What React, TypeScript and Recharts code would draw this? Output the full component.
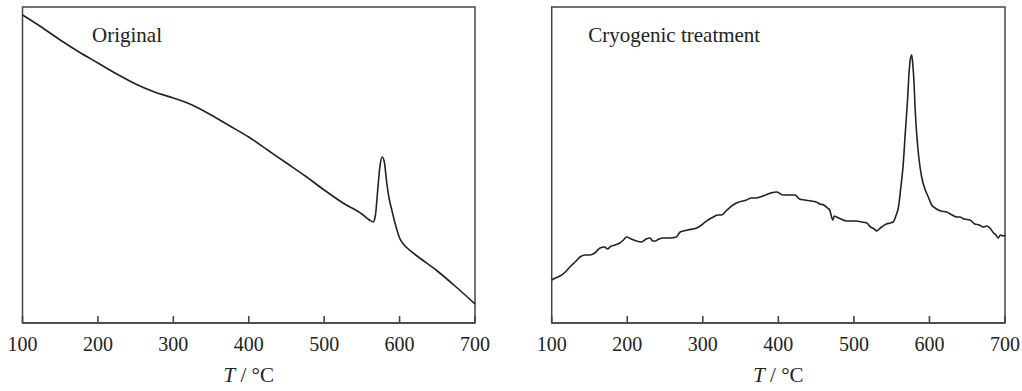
import React from 'react';
import { LineChart, Line, XAxis, YAxis, ReferenceArea, Label } from 'recharts';

// Temperature (°C) and signal (arbitrary units)
const tempOriginal = [
  100, 125, 150, 175, 200, 225, 250, 275, 300, 325, 350, 375, 400, 425, 450, 475, 500, 525, 550,
  560, 565, 568, 571, 574, 577, 580, 583, 586, 590, 595, 600, 605, 610, 625, 650, 675, 700,
];
const signalOriginal = [
  308, 296, 283, 271, 260, 249, 239, 231, 225, 218, 208, 197, 186, 173, 160, 147, 133, 120, 109,
  103, 101, 108, 133, 157, 166, 160, 140, 125, 112, 97, 85, 79, 75, 66, 52, 36, 19,
];

const tempCryo = [
  100, 105, 111, 118, 124, 131, 137.5, 144, 150.7, 157, 164, 170, 174, 177, 184, 190, 195, 199,
  205, 212, 219, 225, 230, 234, 237, 242, 248, 256, 265, 270, 280, 292, 300, 307, 314, 320, 325,
  332, 340, 348, 353, 358, 364, 370, 376, 383, 390, 398, 403, 406, 412, 422, 428, 435, 443, 450,
  455, 460, 465, 468, 472, 474, 477, 483, 490, 497, 503, 510, 517, 522, 527, 530, 535, 543, 548,
  552, 556, 559, 562, 565, 568, 571, 573, 574.5, 576.5, 578, 579.6, 581, 583, 586, 589.7, 594,
  598.5, 603, 607.4, 615, 622.8, 630, 636, 640, 646, 653.6, 660, 666, 671, 676, 680, 685, 688,
  691, 694, 698, 700,
];
const signalCryo = [
  43, 45, 47, 51, 56, 61, 66, 68, 68, 70, 75, 76, 74, 76, 78, 80, 83, 86,
  84, 82, 81, 84, 85, 82, 82, 84, 85, 85, 86, 91, 93, 95, 99, 103, 106, 108, 108,
  113, 118, 121, 122, 123, 125, 125, 126, 128, 130, 131, 129, 128, 128, 128, 124, 123, 122, 121,
  119, 118, 115, 113, 103, 107, 106, 104, 102, 102, 102, 101, 100, 96, 94, 92, 95, 99, 100,
  101, 108, 116, 135, 156, 190, 223, 250, 263, 268, 258, 240, 215, 190, 165, 146, 134,
  126, 118, 115, 112, 111, 108, 106, 106, 104, 103, 99, 98, 96, 97, 95, 90, 88,
  85, 88, 87, 88,
];

const xTicks = [100, 200, 300, 400, 500, 600, 700];

const FONT = '"Liberation Serif", "Times New Roman", serif';
const INK = '#222';
const FRAME = '#444';
const TICK_MARGIN = 14;

// tick label plus a short inward tick mark
function InwardTick(props: any) {
  const { x, y, payload } = props;
  const axisY = y - TICK_MARGIN;
  return (
    <g>
      <line x1={x} y1={axisY} x2={x} y2={axisY - 7} stroke={FRAME} strokeWidth={1.6} />
      <text
        x={x}
        y={y}
        dy="0.71em"
        textAnchor="middle"
        fontFamily={FONT}
        fontSize={20}
        fill={INK}
      >
        {payload.value}
      </text>
    </g>
  );
}

function AxisTitle(props: any) {
  const { viewBox } = props;
  if (!viewBox) return null;
  return (
    <text
      x={viewBox.x + viewBox.width / 2}
      y={viewBox.y + 59}
      textAnchor="middle"
      fontFamily={FONT}
      fontSize={21}
      fill={INK}
    >
      <tspan fontStyle="italic">T</tspan>
      <tspan> / °C</tspan>
    </text>
  );
}

function makeTitle(text: string, dx: number) {
  return function PanelTitle(props: any) {
    const { viewBox } = props;
    if (!viewBox) return null;
    return (
      <text x={viewBox.x + dx} y={viewBox.y + 35} fontFamily={FONT} fontSize={21} fill={INK}>
        {text}
      </text>
    );
  };
}

interface PanelProps {
  temps: number[];
  values: number[];
  title: string;
  titleDx: number;
  left: number;
  marginLeft: number;
  marginRight: number;
}

function Panel({ temps, values, title, titleDx, left, marginLeft, marginRight }: PanelProps) {
  const data = temps.map((t, i) => ({ t, v: values[i] }));
  return (
    <div style={{ position: 'absolute', left, top: 0 }}>
      <LineChart
        width={500}
        height={391}
        data={data}
        margin={{ top: 7, right: marginRight, bottom: 8, left: marginLeft }}
      >
        <YAxis type="number" domain={[0, 316]} hide allowDataOverflow />
        <ReferenceArea
          x1={100}
          x2={700}
          y1={0}
          y2={316}
          fill="#fff"
          fillOpacity={0}
          stroke={FRAME}
          strokeWidth={1.5}
        >
          <Label content={makeTitle(title, titleDx)} />
        </ReferenceArea>
        <Line
          type="monotone"
          dataKey="v"
          stroke={INK}
          strokeWidth={1.6}
          dot={false}
          isAnimationActive={false}
        />
        <XAxis
          dataKey="t"
          type="number"
          domain={[100, 700]}
          ticks={xTicks}
          interval={0}
          height={60}
          tickSize={0}
          tickMargin={TICK_MARGIN}
          axisLine={{ stroke: FRAME, strokeWidth: 1.5 }}
          tickLine={false}
          tick={InwardTick}
        >
          <Label content={AxisTitle} />
        </XAxis>
      </LineChart>
    </div>
  );
}

export default function App() {
  return (
    <div
      style={{
        position: 'absolute',
        left: 0,
        top: 0,
        width: 1022,
        height: 391,
        background: '#fff',
        overflow: 'hidden',
      }}
    >
      <Panel
        temps={tempOriginal}
        values={signalOriginal}
        title="Original"
        titleDx={69.5}
        left={0}
        marginLeft={22.5}
        marginRight={25}
      />
      <Panel
        temps={tempCryo}
        values={signalCryo}
        title="Cryogenic treatment"
        titleDx={36.5}
        left={522}
        marginLeft={29.7}
        marginRight={17}
      />
    </div>
  );
}
